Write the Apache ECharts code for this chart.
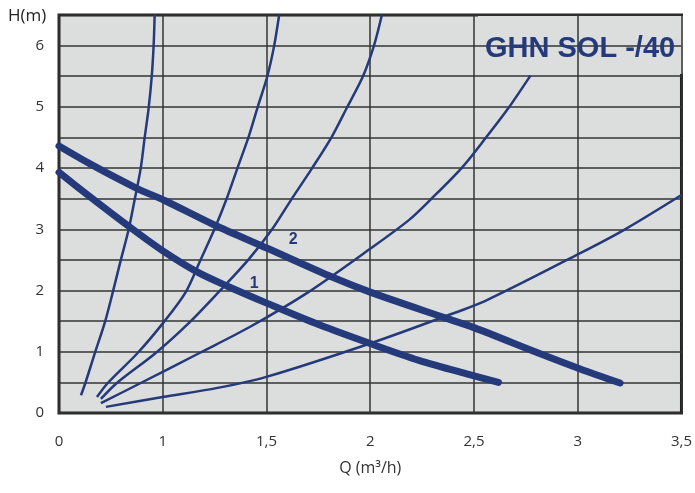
<!DOCTYPE html>
<html>
<head>
<meta charset="utf-8">
<script src="https://cdn.jsdelivr.net/npm/echarts@6/dist/echarts.min.js"></script>
<style>
  html, body { margin: 0; padding: 0; background: #fff; }
  #chart { width: 695px; height: 493px; }
</style>
</head>
<body>
<div id="chart"></div>
<script>
// pump curves (thick) – [Q, H]
const pump1 = [[0.5, 3.93], [0.654, 3.52], [0.836, 3.05], [1.004, 2.64], [1.168, 2.3], [1.312, 2.07],
  [1.504, 1.79], [1.754, 1.44], [2.003, 1.13], [2.234, 0.86], [2.474, 0.63], [2.618, 0.5]];
const pump2 = [[0.5, 4.36], [0.654, 4.06], [0.875, 3.67], [1.009, 3.47], [1.249, 3.07], [1.504, 2.69],
  [1.816, 2.22], [2.003, 1.97], [2.364, 1.55], [2.503, 1.39], [2.81, 0.98], [3.012, 0.72], [3.204, 0.49]];

// system curves (thin)
const sysA = [[0.606, 0.29], [0.627, 0.49], [0.673, 0.98], [0.721, 1.48], [0.759, 1.97], [0.798, 2.5],
  [0.836, 3.0], [0.865, 3.49], [0.894, 4.0], [0.913, 4.5], [0.932, 4.98], [0.947, 5.5], [0.956, 6.0], [0.961, 6.5]];
const sysB = [[0.683, 0.26], [0.735, 0.49], [0.879, 0.98], [1.004, 1.48], [1.11, 1.97], [1.182, 2.5],
  [1.249, 3.0], [1.307, 3.49], [1.36, 4.0], [1.413, 4.5], [1.456, 4.98], [1.504, 5.5], [1.537, 6.0], [1.561, 6.5]];
const sysC = [[0.702, 0.23], [0.779, 0.49], [0.966, 0.98], [1.129, 1.48], [1.268, 1.97], [1.412, 2.5],
  [1.527, 3.0], [1.624, 3.51], [1.72, 4.0], [1.811, 4.49], [1.888, 4.99], [1.965, 5.5], [2.018, 6.0], [2.056, 6.5]];
const sysD = [[0.702, 0.16], [0.894, 0.49], [1.177, 0.98], [1.417, 1.4], [1.7, 1.97], [2.003, 2.69],
  [2.186, 3.15], [2.292, 3.49], [2.44, 4.0], [2.556, 4.49], [2.666, 4.98], [2.772, 5.51]];
const sysE = [[0.726, 0.1], [1.0, 0.26], [1.264, 0.41], [1.499, 0.59], [2.003, 1.14], [2.354, 1.57],
  [2.56, 1.84], [3.012, 2.61], [3.228, 3.0], [3.5, 3.56]];

const qTickLabels = ['0', '1', '1,5', '2', '2,5', '3', '3,5'];
const curveTags = [{ name: '1', coord: [1.441, 2.12] }, { name: '2', coord: [1.629, 2.84] }];

const navy = '#243a7b';
const chart = echarts.init(document.getElementById('chart'));

const thin = (data) => ({
  type: 'line', data, smooth: 0.3, showSymbol: false, silent: true,
  lineStyle: { color: navy, width: 2.5 }
});
const thick = (data, tag) => ({
  type: 'line', data, smooth: 0.3, showSymbol: false, silent: true,
  lineStyle: { color: navy, width: 7, cap: 'round', join: 'round' },
  markPoint: {
    symbol: 'circle', symbolSize: 1, itemStyle: { color: 'transparent' },
    label: { show: true, position: 'inside', formatter: tag.name, color: navy, fontSize: 16, fontWeight: 'bold', fontFamily: 'Liberation Sans' },
    data: [{ coord: tag.coord }]
  }
});

chart.setOption({
  animation: false,
  backgroundColor: '#fff',
  title: [
    { text: 'GHN SOL -/40', left: 480, top: 29,
      textStyle: { color: navy, fontSize: 29, fontWeight: 'bold', fontFamily: 'Liberation Sans' } },
    { text: 'H(m)', left: 3, top: 3,
      textStyle: { color: '#222', fontSize: 17, fontWeight: 'normal', fontFamily: 'Open Sans' } }
  ],
  graphic: [{
    type: 'rect', left: 478, top: 16,
    shape: { width: 205, height: 58 },
    style: { fill: '#dcdddd' }
  }],
  grid: {
    left: 59, right: 11, top: 15, bottom: 80,
    show: true, backgroundColor: '#dcdddd', borderColor: '#222', borderWidth: 3
  },
  xAxis: {
    type: 'value', min: 0.5, max: 3.5, interval: 0.5,
    name: 'Q (m³/h)', nameLocation: 'middle', nameGap: 47,
    nameTextStyle: { color: '#333', fontSize: 16, fontFamily: 'Open Sans' },
    axisLine: { show: false }, axisTick: { show: false },
    axisLabel: {
      color: '#333', fontSize: 15, fontFamily: 'Open Sans', margin: 21,
      formatter: (v) => qTickLabels[Math.round((v - 0.5) / 0.5)]
    },
    splitLine: { show: true, lineStyle: { color: '#333', width: 1.5 } }
  },
  yAxis: {
    type: 'value', min: 0, max: 6.5, interval: 0.5,
    axisLine: { show: false }, axisTick: { show: false },
    axisLabel: {
      color: '#333', fontSize: 15, fontFamily: 'Open Sans', margin: 15,
      formatter: (v) => (Number.isInteger(v) && v <= 6 ? String(v) : '')
    },
    splitLine: { show: true, lineStyle: { color: '#333', width: 1.5 } }
  },
  series: [
    thin(sysA), thin(sysB), thin(sysC), thin(sysD), thin(sysE),
    thick(pump1, curveTags[0]), thick(pump2, curveTags[1])
  ]
});
</script>
</body>
</html>
